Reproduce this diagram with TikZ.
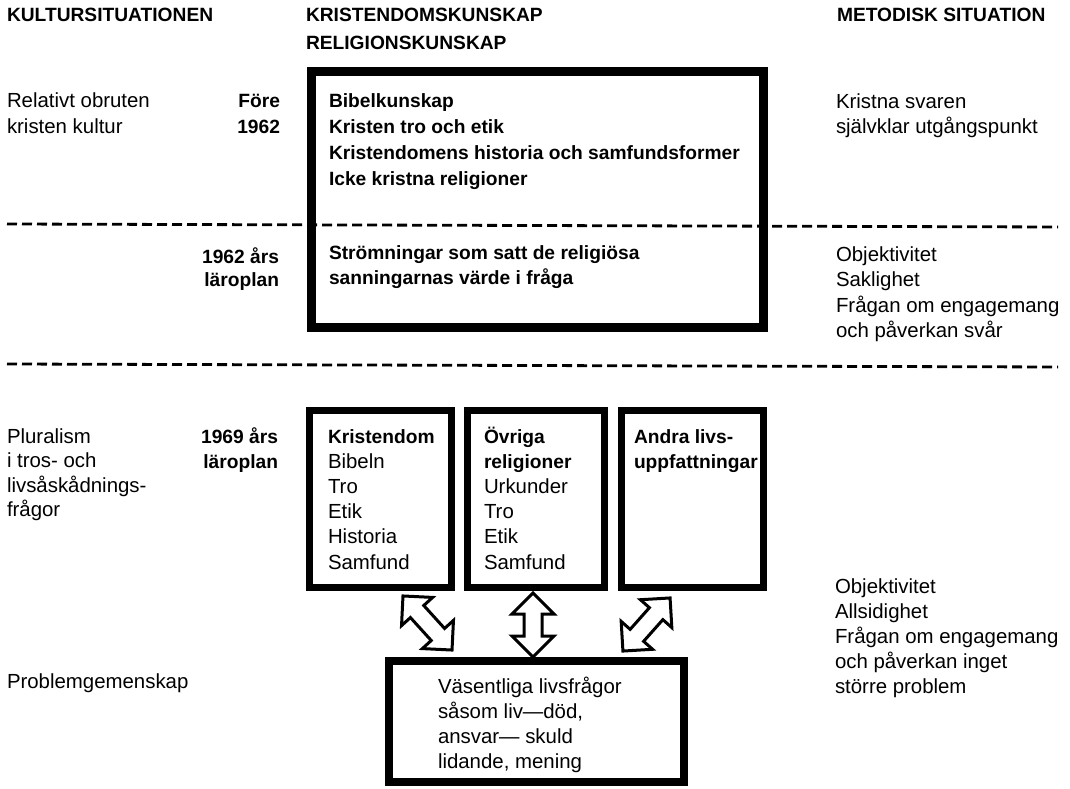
\documentclass[tikz,border=0pt]{standalone}
\usepackage{fontspec}
\setmainfont{Liberation Sans}
\usetikzlibrary{calc}
% #1 size, #2 line distance, #3 lines
\newcommand{\txtlines}[3]{{\fontsize{#1}{#2}\selectfont\begin{tabular}[t]{@{}l@{}}#3\end{tabular}}}
\newcommand{\txtlinesr}[3]{{\fontsize{#1}{#2}\selectfont\begin{tabular}[t]{@{}r@{}}#3\end{tabular}}}
\newcommand{\rs}{20.4}% regular size
\newcommand{\bs}{19.2}% bold size
\newcommand{\B}[1]{{\fontsize{\bs}{\baselineskip}\selectfont\bfseries #1}}
\tikzset{
  txt/.style={anchor=base west, inner sep=0pt, outer sep=0pt},
  txtr/.style={anchor=base east, inner sep=0pt, outer sep=0pt},
  bigbox/.style={draw, line width=9pt, rectangle, inner sep=0pt},
  smallbox/.style={draw, line width=7pt, rectangle, inner sep=0pt},
  sep/.style={line width=2.8pt, dash pattern=on 10pt off 5pt},
  blockarrow/.style={draw, line width=3pt, fill=white, line join=miter}
}
\newcommand{\dblarrow}[4]{% cx, cy, angle, length
  \begin{scope}[shift={(#1,#2)}, rotate=#3]
    \draw[blockarrow] (-#4/2,0) -- (-#4/2+21,21) -- (-#4/2+21,9) -- (#4/2-21,9) -- (#4/2-21,21) -- (#4/2,0)
      -- (#4/2-21,-21) -- (#4/2-21,-9) -- (-#4/2+21,-9) -- (-#4/2+21,-21) -- cycle;
  \end{scope}}
\begin{document}
\begin{tikzpicture}[x=1pt, y=-1pt]
\useasboundingbox (0,0) rectangle (1070,789);

% separators
\coordinate (d1l) at (7,224);
\coordinate (d1r) at (1058,227);
\coordinate (d2l) at (7,364);
\coordinate (d2r) at (1058,367);
\draw[sep] (d1l) -- (d1r);
\draw[sep] (d2l) -- (d2r);

% headers
\node[txt] (h1) at (7,22) {\txtlines{\bs}{25}{\B{KULTURSITUATIONEN}}};
\node[txt] (h2) at (306,22) {\txtlines{\bs}{28}{\B{KRISTENDOMSKUNSKAP}\\\B{RELIGIONSKUNSKAP}}};
\node[txt] (h3) at (837,22) {\txtlines{\bs}{25}{\B{METODISK SITUATION}}};

% top box
\node[bigbox, minimum width=452pt, minimum height=255pt] (top) at (537,199.5) {};
\node[txt] (toptxt) at (329,108) {\txtlines{\bs}{25.8}{\B{Bibelkunskap}\\\B{Kristen tro och etik}\\\B{Kristendomens historia och samfundsformer}\\\B{Icke kristna religioner}}};
\node[txt] (midtxt) at (329,259) {\txtlines{\bs}{25}{\B{Strömningar som satt de religiösa}\\\B{sanningarnas värde i fråga}}};

% left column
\node[txt] (l1) at (7,108) {\txtlines{\rs}{25}{Relativt obruten\\kristen kultur}};
\node[txtr] (y1) at (280,108) {\txtlinesr{\bs}{25}{\B{Före}\\\B{1962}}};
\node[txtr] (y2) at (279,263) {\txtlinesr{\bs}{23}{\B{1962 års}\\\B{läroplan}}};
\node[txt] (l3) at (7,443) {\txtlines{\rs}{24.6}{Pluralism\\i tros- och\\livsåskådnings-\\frågor}};
\node[txtr] (y3) at (278,443) {\txtlinesr{\bs}{25}{\B{1969 års}\\\B{läroplan}}};
\node[txt] (l4) at (7,688) {\txtlines{\rs}{25}{Problemgemenskap}};

% right column
\node[txt] (r1) at (836,109) {\txtlines{\rs}{25}{Kristna svaren\\självklar utgångspunkt}};
\node[txt] (r2) at (836,261) {\txtlines{\rs}{25.5}{Objektivitet\\Saklighet\\Frågan om engagemang\\och påverkan svår}};
\node[txt] (r3) at (835,593) {\txtlines{\rs}{25}{Objektivitet\\Allsidighet\\Frågan om engagemang\\och påverkan inget\\större problem}};

% three boxes
\node[smallbox, minimum width=142pt, minimum height=177pt] (b1) at (380.5,499) {};
\node[smallbox, minimum width=137pt, minimum height=177pt] (b2) at (536,499) {};
\node[smallbox, minimum width=142pt, minimum height=177pt] (b3) at (692.5,499) {};
\node[txt] (b1t) at (328,443) {\txtlines{\rs}{25.2}{\B{Kristendom}\\Bibeln\\Tro\\Etik\\Historia\\Samfund}};
\node[txt] (b2t) at (484,443) {\txtlines{\rs}{25.2}{\B{Övriga}\\\B{religioner}\\Urkunder\\Tro\\Etik\\Samfund}};
\node[txt] (b3t) at (634,443) {\txtlines{\bs}{25.2}{\B{Andra livs-}\\\B{uppfattningar}}};

% bottom box
\node[draw, line width=8pt, rectangle, inner sep=0pt, minimum width=295pt, minimum height=121pt] (bot) at (536.5,721.5) {};
\node[txt] (bott) at (438,693) {\txtlines{\rs}{25.3}{Väsentliga livsfrågor\\såsom liv—död,\\ansvar— skuld\\lidande, mening}};

% block double arrows between the boxes and the bottom box
\dblarrow{427.5}{623}{-47.8}{73}
\dblarrow{533}{625}{90}{64}
\dblarrow{646.5}{624.5}{48.4}{71}
\end{tikzpicture}
\end{document}
